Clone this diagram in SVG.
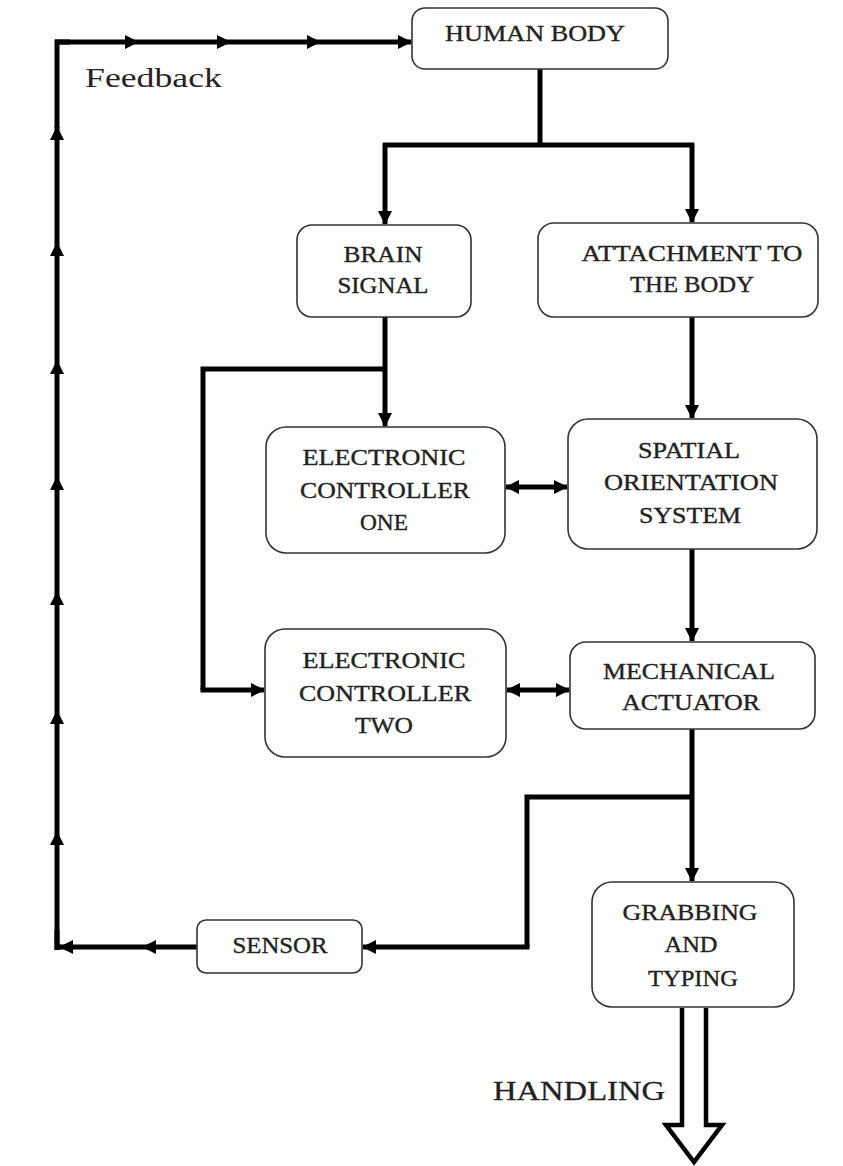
<svg xmlns="http://www.w3.org/2000/svg" width="843" height="1166" viewBox="0 0 843 1166">
<style>
.box{fill:#fff;stroke:#333;stroke-width:1.6}
.t{font-family:"Liberation Serif","Times New Roman",serif;font-size:23px;fill:#222;stroke:#222;stroke-width:0.35;text-anchor:middle}
.c{fill:none;stroke:#000;stroke-width:5;stroke-linejoin:miter}
.ca{fill:none;stroke:#000;stroke-width:5;marker-end:url(#ah)}
.cd{fill:none;stroke:#000;stroke-width:5;marker-end:url(#ah);marker-start:url(#ah)}
</style>
<defs>
<marker id="ah" viewBox="0 0 14 14" refX="13" refY="7" markerWidth="14" markerHeight="14" markerUnits="userSpaceOnUse" orient="auto-start-reverse">
<path d="M0,0 L14,7 L0,14 Z" fill="#000"/>
</marker>
</defs>
<rect width="843" height="1166" fill="#fff"/>
<g id="connectors">
<path class="ca" d="M197,947 H143"/>
<path class="ca" d="M143,947 H60"/>
<path class="c" d="M61,947 H57 V930"/>
<path class="ca" d="M57,950 V832"/>
<path class="ca" d="M57,832 V711"/>
<path class="ca" d="M57,711 V592"/>
<path class="ca" d="M57,592 V477"/>
<path class="ca" d="M57,477 V361"/>
<path class="ca" d="M57,361 V243"/>
<path class="ca" d="M57,243 V127"/>
<path class="c" d="M57,128 V42 H70"/>
<path class="ca" d="M55,42 H138"/>
<path class="ca" d="M138,42 H230"/>
<path class="ca" d="M230,42 H320"/>
<path class="ca" d="M320,42 H411"/>
<path class="c" d="M540,69 V145"/>
<path class="c" d="M383,145 H694"/>
<path class="ca" d="M385,143 V224"/>
<path class="ca" d="M692,143 V222"/>
<path class="ca" d="M385,317 V426"/>
<path class="c" d="M385,369 H203 V690"/>
<path class="ca" d="M200.5,690 H264"/>
<path class="ca" d="M692,317 V418"/>
<path class="cd" d="M506,487 H567"/>
<path class="ca" d="M692,549 V641"/>
<path class="cd" d="M507,690 H569"/>
<path class="ca" d="M692,729 V881"/>
<path class="c" d="M692,797 H527 V947"/>
<path class="ca" d="M529.5,947 H363"/>
<path d="M682,1008 V1125 H666 L694,1162 L722,1125 H706 V1008" fill="#fff" stroke="#000" stroke-width="4.5" stroke-linejoin="miter"/>
</g>
<g id="human-body">
<rect class="box" x="412" y="8" width="256" height="61" rx="13"/>
<text class="t" x="535" y="41" textLength="180" lengthAdjust="spacingAndGlyphs">HUMAN BODY</text>
</g>
<g id="brain-signal">
<rect class="box" x="297" y="225" width="174" height="92" rx="15"/>
<text class="t" x="383" y="262" textLength="79" lengthAdjust="spacingAndGlyphs">BRAIN</text>
<text class="t" x="383" y="293" textLength="91" lengthAdjust="spacingAndGlyphs">SIGNAL</text>
</g>
<g id="attachment">
<rect class="box" x="538" y="223" width="280" height="94" rx="16"/>
<text class="t" x="692" y="261" textLength="221" lengthAdjust="spacingAndGlyphs">ATTACHMENT TO</text>
<text class="t" x="692" y="292" textLength="124" lengthAdjust="spacingAndGlyphs">THE BODY</text>
</g>
<g id="ec1">
<rect class="box" x="266" y="427" width="239" height="126" rx="20"/>
<text class="t" x="384" y="465" textLength="163" lengthAdjust="spacingAndGlyphs">ELECTRONIC</text>
<text class="t" x="385" y="498" textLength="170" lengthAdjust="spacingAndGlyphs">CONTROLLER</text>
<text class="t" x="384" y="530" textLength="48" lengthAdjust="spacingAndGlyphs">ONE</text>
</g>
<g id="sos">
<rect class="box" x="568" y="419" width="249" height="130" rx="20"/>
<text class="t" x="689" y="458" textLength="102" lengthAdjust="spacingAndGlyphs">SPATIAL</text>
<text class="t" x="691" y="490" textLength="174" lengthAdjust="spacingAndGlyphs">ORIENTATION</text>
<text class="t" x="690" y="523" textLength="102" lengthAdjust="spacingAndGlyphs">SYSTEM</text>
</g>
<g id="ec2">
<rect class="box" x="265" y="629" width="241" height="128" rx="20"/>
<text class="t" x="384" y="668" textLength="163" lengthAdjust="spacingAndGlyphs">ELECTRONIC</text>
<text class="t" x="385" y="701" textLength="172" lengthAdjust="spacingAndGlyphs">CONTROLLER</text>
<text class="t" x="384" y="733" textLength="58" lengthAdjust="spacingAndGlyphs">TWO</text>
</g>
<g id="mech">
<rect class="box" x="570" y="642" width="245" height="87" rx="16"/>
<text class="t" x="689" y="679" textLength="172" lengthAdjust="spacingAndGlyphs">MECHANICAL</text>
<text class="t" x="691" y="710" textLength="138" lengthAdjust="spacingAndGlyphs">ACTUATOR</text>
</g>
<g id="grabbing">
<rect class="box" x="592" y="882" width="202" height="125" rx="20"/>
<text class="t" x="690" y="920" textLength="135" lengthAdjust="spacingAndGlyphs">GRABBING</text>
<text class="t" x="691" y="952" textLength="53" lengthAdjust="spacingAndGlyphs">AND</text>
<text class="t" x="693" y="986" textLength="90" lengthAdjust="spacingAndGlyphs">TYPING</text>
</g>
<g id="sensor">
<rect class="box" x="197" y="920" width="165" height="53" rx="9"/>
<text class="t" x="280" y="953" textLength="95" lengthAdjust="spacingAndGlyphs">SENSOR</text>
</g>
<g id="labels">
<text x="85" y="87" font-family="Liberation Serif, serif" font-size="28" fill="#2a2222" textLength="137" lengthAdjust="spacingAndGlyphs">Feedback</text>
<text x="493" y="1100" font-family="Liberation Serif, serif" font-size="28" fill="#222" stroke="#222" stroke-width="0.3" textLength="172" lengthAdjust="spacingAndGlyphs">HANDLING</text>
</g>
</svg>
